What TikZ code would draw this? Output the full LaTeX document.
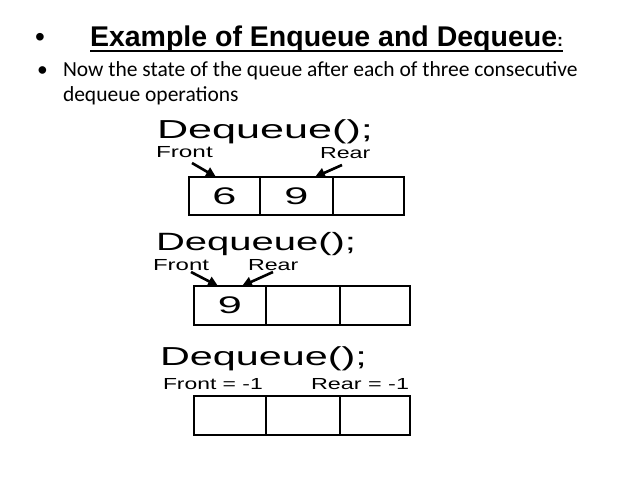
\documentclass[tikz,border=0pt]{standalone}
\usepackage{fontspec}
\setmainfont{Liberation Sans}
\newfontfamily\calibfont{Carlito}
\usetikzlibrary{arrows.meta,calc}
\newcommand\widetext[3]{\scalebox{#1}[1]{\fontsize{#2}{#2}\selectfont #3}}
\tikzset{
  txt/.style={inner sep=0pt, outer sep=0pt, anchor=base west},
  cell/.style={draw, line width=2bp, inner sep=0pt, outer sep=0pt},
  ptr/.style={line width=2.6bp, -{Triangle[length=10bp,width=10bp]}},
}
\begin{document}
\begin{tikzpicture}[x=1bp,y=-1bp]
\fill[white] (0,0) rectangle (638,479);
\useasboundingbox (0,0) rectangle (638,479);

% title
\node[txt] (bul1) at (35,47) {\fontsize{28bp}{28bp}\selectfont \textbullet};
\node[txt] (title) at (90,47) {\fontsize{28.5bp}{28.5bp}\selectfont\bfseries Example of Enqueue and Dequeue\fontsize{18bp}{18bp}\selectfont :};
\draw[line width=2bp] ($(title.base west)+(0,4)$) -- ($(title.base east)+(0,4)$);

% bullet text
\node[txt] (bul2) at (37,77) {\calibfont\fontsize{21.5bp}{21.5bp}\selectfont •};
\node[txt] (line1) at (63,77) {\calibfont\fontsize{21.5bp}{21.5bp}\selectfont Now the state of the queue after each of three consecutive};
\node[txt] (line2) at (63,102) {\calibfont\fontsize{21.5bp}{21.5bp}\selectfont dequeue operations};

% row 1
\node[txt] (deq1) at (157,139) {\widetext{1.66}{26bp}{Dequeue();}};
\node[txt] (front1) at (156,158) {\widetext{1.52}{16bp}{Front}};
\node[txt] (rear1) at (320,159) {\widetext{1.45}{16bp}{Rear}};
\node[cell, minimum width=71bp, minimum height=38bp] (a1) at (224.5,196) {\widetext{1.8}{24bp}{6}};
\node[cell, minimum width=73bp, minimum height=38bp] (a2) at (296.5,196) {\widetext{1.8}{24bp}{9}};
\node[cell, minimum width=71bp, minimum height=38bp] (a3) at (368.5,196) {};
\coordinate (f1s) at (192,163);
\coordinate (f1t) at (216,177);
\coordinate (r1s) at (342,165);
\coordinate (r1t) at (315,177);
\draw[ptr] (f1s) -- (f1t);
\draw[ptr] (r1s) -- (r1t);

% row 2
\node[txt] (deq2) at (156,251) {\widetext{1.6}{25bp}{Dequeue();}};
\node[txt] (front2) at (153,270) {\widetext{1.5}{16bp}{Front}};
\node[txt] (rear2) at (248,270) {\widetext{1.45}{16bp}{Rear}};
\node[cell, minimum width=72bp, minimum height=39bp] (b1) at (230,305.5) {\widetext{1.8}{24bp}{9}};
\node[cell, minimum width=74bp, minimum height=39bp] (b2) at (303,305.5) {};
\node[cell, minimum width=70bp, minimum height=39bp] (b3) at (375,305.5) {};
\coordinate (f2s) at (191,272);
\coordinate (f2t) at (218,286);
\coordinate (r2s) at (273,272);
\coordinate (r2t) at (242,286);
\draw[ptr] (f2s) -- (f2t);
\draw[ptr] (r2s) -- (r2t);

% row 3
\node[txt] (deq3) at (160,365) {\widetext{1.59}{26bp}{Dequeue();}};
\node[txt] (front3) at (163,389) {\widetext{1.43}{16bp}{Front = -1}};
\node[txt] (rear3) at (311,389) {\widetext{1.46}{16bp}{Rear = -1}};
\node[cell, minimum width=72bp, minimum height=39bp] (c1) at (230,415.5) {};
\node[cell, minimum width=74bp, minimum height=39bp] (c2) at (303,415.5) {};
\node[cell, minimum width=70bp, minimum height=39bp] (c3) at (375,415.5) {};
\end{tikzpicture}
\end{document}
